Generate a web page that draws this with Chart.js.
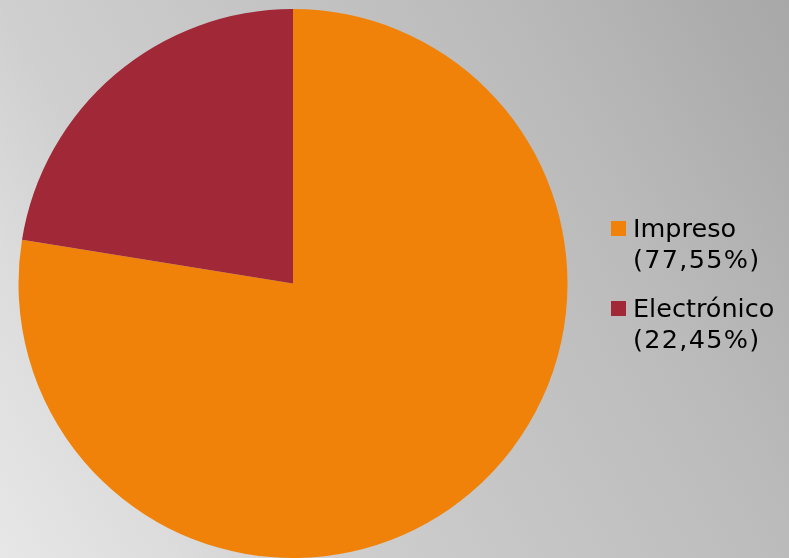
<!DOCTYPE html>
<html>
<head>
<meta charset="utf-8">
<script src="https://cdn.jsdelivr.net/npm/chart.js@4"></script>
<style>
  html, body { margin: 0; padding: 0; }
  body {
    width: 789px; height: 558px; overflow: hidden; position: relative;
    background: linear-gradient(60deg, #e7e7e7 0%, #dcdcdc 16%, #cfcfcf 29%, #bbbbbb 72%, #b5b5b5 81%, #acacac 93%, #a8a8a8 100%);
    font-family: "DejaVu Sans", Verdana, sans-serif;
  }
  #c { position: absolute; left: 0; top: 0; }
  #legend { position: absolute; left: 611px; top: 213px; }
  .item { display: flex; align-items: flex-start; margin-bottom: 18px; }
  .box { width: 15px; height: 15px; margin-top: 8px; margin-right: 7px; flex: none; }
  .txt { font-size: 25.5px; line-height: 31px; color: #000; }
  .val { letter-spacing: 1.3px; }
</style>
</head>
<body>
<canvas id="c" width="789" height="558"></canvas>
<div id="legend"></div>
<script>
const categories = ["Impreso", "Electrónico"];
const values = [77.55, 22.45];
const valueLabels = ["(77,55%)", "(22,45%)"];
const colors = ["#F0820A", "#A02837"];

new Chart(document.getElementById("c"), {
  type: "pie",
  data: {
    labels: categories,
    datasets: [{ data: values, backgroundColor: colors, borderWidth: 0 }]
  },
  options: {
    responsive: false,
    animation: false,
    layout: { padding: { left: 18, right: 221, top: 9, bottom: 0 } },
    plugins: { legend: { display: false }, tooltip: { enabled: false } }
  }
});

const leg = document.getElementById("legend");
categories.forEach((c, i) => {
  const it = document.createElement("div");
  it.className = "item";
  const b = document.createElement("div");
  b.className = "box"; b.style.background = colors[i];
  const t = document.createElement("div");
  t.className = "txt";
  const l1 = document.createElement("div");
  l1.textContent = c;
  const l2 = document.createElement("div");
  l2.className = "val";
  l2.textContent = valueLabels[i];
  t.appendChild(l1); t.appendChild(l2);
  it.appendChild(b); it.appendChild(t);
  leg.appendChild(it);
});
</script>
</body>
</html>
